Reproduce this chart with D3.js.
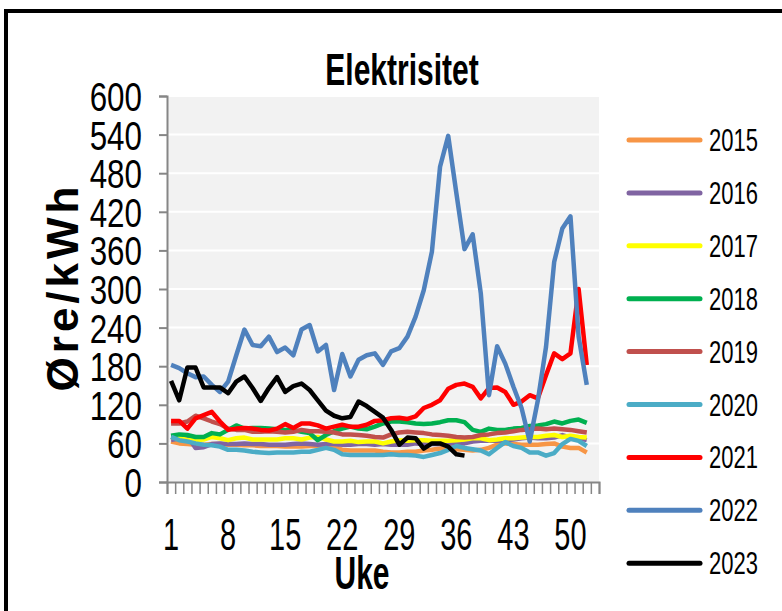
<!DOCTYPE html>
<html>
<head>
<meta charset="utf-8">
<script src="https://cdn.jsdelivr.net/npm/d3@7"></script>
<style>
  html, body { margin: 0; padding: 0; background: #ffffff; }
  svg { display: block; }
  text { font-family: "Liberation Sans", Arial, sans-serif; fill: #000; }
</style>
</head>
<body>
<svg id="chart" width="782" height="611"></svg>
<script>
// Weekly electricity price (øre/kWh) per year
const weeks = d3.range(1, 53);
const years = ["2015", "2016", "2017", "2018", "2019", "2020", "2021", "2022", "2023"];
const colors = ["#f79646", "#8064a2", "#ffff00", "#00b050", "#c0504d", "#4bacc6", "#ff0000", "#4f81bd", "#000000"];
const yTicks = d3.range(0, 601, 60);
const xLabels = [1, 8, 15, 22, 29, 36, 43, 50];

const y2015 = [63,60,59,58,58,59,59,58,58,57, 57,56,56,56,55,55,55,56,56,56, 55,50,49,49,49,49,47,46,46,47, 47,49,50,52,55,51,50,49,50,53, 58,60,59,58,58,58,59,60,55,53, 53,46];
const y2016 = [65,68,72,53,54,59,60,59,59,60, 59,59,58,58,58,59,60,59,58,59, 59,58,58,59,59,58,59,58,58,58, 60,59,59,59,60,60,60,63,64,64, 64,65,66,68,69,68,68,69,73,69, 68,65];
const y2017 = [70,69,65,65,66,70,68,65,68,69, 66,66,66,66,68,68,66,69,70,66, 63,63,64,62,63,63,60,63,65,64, 65,65,64,64,64,65,66,68,68,65, 66,68,68,69,70,70,72,73,70,72, 70,69];
const y2018 = [72,74,73,70,70,76,74,81,88,83, 84,84,83,82,81,81,78,76,65,73, 79,83,86,83,82,86,91,94,94,93, 91,90,91,93,96,96,93,81,78,83, 81,81,83,84,87,88,90,94,91,95, 97,92];
const y2019 = [91,91,94,103,99,94,90,83,81,81, 78,78,79,78,77,78,81,79,79,78, 77,74,74,73,72,70,69,74,77,78, 77,76,74,73,72,70,69,70,73,74, 76,77,79,81,82,83,82,83,82,81, 79,77];
const y2020 = [70,65,63,60,58,57,55,50,50,49, 47,46,45,46,46,46,47,47,50,53, 50,43,42,42,42,42,42,43,42,42, 41,39,42,45,50,56,53,51,49,43, 53,62,56,53,46,46,41,45,59,67, 64,56];
const y2021 = [95,95,83,99,104,109,94,81,83,84, 83,81,80,83,90,84,91,91,88,83, 86,89,86,86,89,95,96,99,100,98, 102,115,120,127,145,151,153,148,130,146, 147,140,120,125,135,130,166,200,191,200, 300,182];
const y2022 = [182,177,169,163,164,151,140,156,197,237, 213,211,226,202,209,197,237,244,203,213, 143,199,164,190,197,200,182,203,208,226, 257,298,358,490,538,449,362,385,293,135, 211,184,148,115,63,127,210,342,394,413, 226,151];
const y2023 = [157,127,178,178,147,147,147,138,156,164, 146,126,146,163,140,149,153,143,127,111, 103,99,101,125,118,109,100,81,58,69, 68,52,60,60,55,43,41];

const seriesValues = [y2015, y2016, y2017, y2018, y2019, y2020, y2021, y2022, y2023];

const svg = d3.select("#chart");

// outer frame
svg.append("rect")
  .attr("x", 6).attr("y", 11)
  .attr("width", 820).attr("height", 640)
  .attr("fill", "none").attr("stroke", "#000").attr("stroke-width", 4);

const plot = { left: 167, right: 599, top: 96, bottom: 482 };
const nWeeks = 53;

const x = d3.scaleLinear().domain([0, nWeeks]).range([plot.left, plot.right]);
const y = d3.scaleLinear().domain([0, 600]).range([plot.bottom, plot.top]);

// background
svg.append("rect")
  .attr("x", plot.left).attr("y", plot.top)
  .attr("width", plot.right - plot.left).attr("height", plot.bottom - plot.top)
  .attr("fill", "#f2f2f2");

// horizontal gridlines
svg.append("g")
  .selectAll("line")
  .data(yTicks.filter(d => d > 0))
  .join("line")
  .attr("x1", plot.left).attr("x2", plot.right)
  .attr("y1", d => y(d)).attr("y2", d => y(d))
  .attr("stroke", "#ffffff").attr("stroke-width", 2);

// text helper: stretched text centred vertically on (cx, cy)
function label(parent, str, cx, cy, size, sx, sy, anchor, weight) {
  const g = parent.append("g").attr("transform", `translate(${cx},${cy}) scale(${sx},${sy})`);
  g.append("text")
    .attr("x", 0).attr("y", size * 0.358)
    .attr("text-anchor", anchor)
    .attr("font-size", size)
    .attr("font-weight", weight || "normal")
    .text(str);
  return g;
}

// y axis
const yAxis = svg.append("g")
  .attr("transform", `translate(${plot.left},0)`)
  .call(d3.axisLeft(y).tickValues(yTicks).tickSize(8).tickFormat(""));
yAxis.select(".domain").attr("stroke", "#868686").attr("stroke-width", 2);
yAxis.selectAll(".tick line").attr("stroke", "#868686").attr("stroke-width", 2);

yTicks.forEach(v => label(svg, String(v), 142, y(v), 32, 0.98, 1.3, "end"));

// x axis
const xAxis = svg.append("g")
  .attr("transform", `translate(0,${plot.bottom})`)
  .call(d3.axisBottom(x).tickValues(d3.range(0, nWeeks + 1)).tickSize(12).tickFormat(""));
xAxis.select(".domain").attr("stroke", "#868686").attr("stroke-width", 2);
xAxis.selectAll(".tick line").attr("stroke", "#868686").attr("stroke-width", 1.5);

xLabels.forEach(w => label(svg, String(w), x(w - 0.5), 534, 29, 1.0, 1.55, "middle"));

// titles
label(svg, "Elektrisitet", 402, 69, 30, 1.0, 1.5, "middle", "bold");
label(svg, "Uke", 362, 572, 30, 1.0, 1.55, "middle", "bold");

const yTitle = svg.append("g").attr("transform", "translate(62,287) rotate(-90)");
yTitle.append("text")
  .attr("x", 0).attr("y", 44 * 0.358)
  .attr("text-anchor", "middle")
  .attr("font-size", 44)
  .attr("font-weight", "bold")
  .attr("letter-spacing", 4)
  .text("Øre/kWh");

// series lines
const line = d3.line()
  .x((d, i) => x(i + 0.5))
  .y(d => y(d));

svg.append("g")
  .selectAll("path")
  .data(seriesValues)
  .join("path")
  .attr("d", d => line(d))
  .attr("fill", "none")
  .attr("stroke", (d, i) => colors[i])
  .attr("stroke-width", 4.5)
  .attr("stroke-linejoin", "round");

// legend
const legend = svg.append("g");
years.forEach((yr, i) => {
  const cy = 140 + i * 52.9;
  legend.append("line")
    .attr("x1", 629).attr("x2", 700)
    .attr("y1", cy).attr("y2", cy)
    .attr("stroke", colors[i]).attr("stroke-width", 5)
    .attr("stroke-linecap", "round");
  label(legend, yr, 709, cy, 22, 1.0, 1.4, "start");
});
</script>
</body>
</html>
